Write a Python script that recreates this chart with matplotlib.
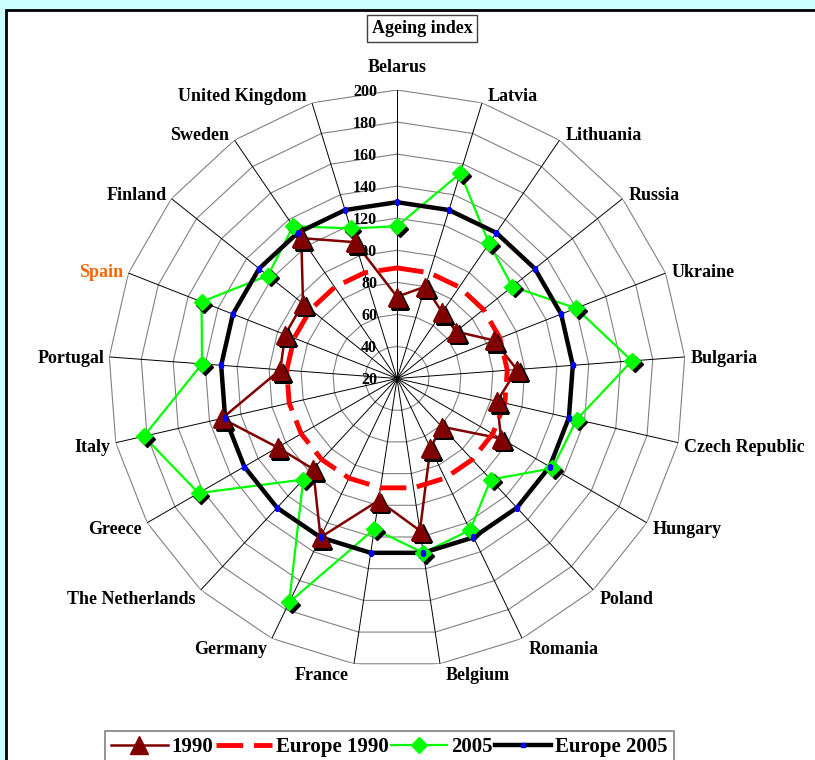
import numpy as np
import matplotlib
matplotlib.use("Agg")
import matplotlib.pyplot as plt
import matplotlib.lines as mlines
import matplotlib.patches as mpatches
import matplotlib.transforms as mtransforms

plt.rcParams['font.family'] = ['Liberation Serif', 'DejaVu Serif']
plt.rcParams['font.weight'] = 'bold'

countries = ["Belarus", "Latvia", "Lithuania", "Russia", "Ukraine", "Bulgaria",
             "Czech Republic", "Hungary", "Poland", "Romania", "Belgium", "France",
             "Germany", "The Netherlands", "Greece", "Italy", "Portugal", "Spain",
             "Finland", "Sweden", "United Kingdom"]
y1990 = [71, 80, 70, 67, 85, 95, 84, 95, 61, 68, 116, 97,
         130, 97, 106, 132, 93, 95, 95, 126, 109]
y2005 = [115, 154, 122, 112, 140, 167, 135, 132, 106, 125, 130, 115,
         175, 106, 163, 182, 142, 151, 123, 135, 118]
europe1990 = [89] * len(countries)
europe2005 = [130] * len(countries)
ticks = [20, 40, 60, 80, 100, 120, 140, 160, 180, 200]

W, H = 815, 760
fig = plt.figure(figsize=(W / 100, H / 100), dpi=100)
fig.patch.set_facecolor("#ccffff")

# white chart area with black frame (runs off the right/bottom edge)
fig.patches.append(mpatches.Rectangle((6 / W, -0.1), 1.2, 1 - 10 / H + 0.1,
                                      transform=fig.transFigure, facecolor="white",
                                      edgecolor="black", linewidth=2, zorder=-1))

cx, cy, R = 397, 378.5, 288.5
ax = fig.add_axes([(cx - R) / W, (H - cy - R) / H, 2 * R / W, 2 * R / H],
                  projection="polar")
ax.set_theta_zero_location("N")
ax.set_theta_direction(-1)
ax.set_ylim(20, 200)
ax.grid(False)
ax.set_xticks([])
ax.set_yticks([])
ax.spines["polar"].set_visible(False)
ax.patch.set_visible(False)

n = len(countries)
theta = np.arange(n) * 2 * np.pi / n
tc = np.append(theta, theta[0])

def closed(v):
    return list(v) + [v[0]]

# polygon grid
for v in ticks[1:]:
    ax.plot(tc, [v] * (n + 1), color="#808080", lw=0.8, zorder=1)
for t in theta:
    ax.plot([t, t], [20, 200], color="black", lw=0.7, zorder=1.2)

for v in ticks:
    ax.annotate(str(v), xy=(0, v), xytext=(-20, -2), textcoords="offset pixels",
                ha="right", va="center", fontsize=11.5, fontweight="bold", zorder=2)

for i, name in enumerate(countries):
    s, c = np.sin(theta[i]), np.cos(theta[i])
    if i == 0:
        off, ha = (0, 23), "center"
    elif s > 0:
        off, ha = (6, 9 * c - 2.5), "left"
    else:
        off, ha = (-5, 9 * c - 2.5), "right"
    color = "#ff6600" if name == "Spain" else "black"
    ax.annotate(name, xy=(theta[i], 200), xytext=off, textcoords="offset pixels",
                ha=ha, va="center", fontsize=13, fontweight="bold",
                color=color, annotation_clip=False)

# series lines
ax.plot(tc, closed(y1990), color="#800000", lw=1.8, zorder=3)
ax.plot(tc, closed(europe1990), color="#ff0000", lw=3.5,
        linestyle=(0, (5.5, 2.2)), zorder=3.1)
ax.plot(tc, closed(y2005), color="#00ff00", lw=1.6, zorder=3.2)
ax.plot(tc, closed(europe2005), color="black", lw=3.2, zorder=3.3)

# markers with shadow
shadow = ax.transData + mtransforms.ScaledTranslation(2 / 72, -2 / 72, fig.dpi_scale_trans)
ax.plot(theta, y1990, ls="none", marker="^", ms=12.5, color="black", transform=shadow, zorder=4)
ax.plot(theta, y2005, ls="none", marker="D", ms=8.5, color="black", transform=shadow, zorder=4)
ax.plot(theta, y1990, ls="none", marker="^", ms=12.5, color="#800000", zorder=4.5)
ax.plot(theta, y2005, ls="none", marker="D", ms=8.5, color="#00ff00", zorder=4.6)
ax.plot(theta, europe2005, ls="none", marker="s", ms=2.2, color="#0000ff", zorder=5)

fig.text(422 / W, 1 - 28.5 / H, "Ageing index", ha="center", va="center",
         fontsize=13, fontweight="bold",
         bbox=dict(boxstyle="square,pad=0.25", fc="white", ec="#404040", lw=1))

handles = [
    mlines.Line2D([], [], color="#800000", lw=1.8, marker="^", ms=12.5),
    mlines.Line2D([], [], color="#ff0000", lw=3.5, linestyle=(0, (5.5, 2.2))),
    mlines.Line2D([], [], color="#00ff00", lw=1.6, marker="D", ms=8.5),
    mlines.Line2D([], [], color="black", lw=3.2, marker="s", ms=2.2,
                  mfc="#0000ff", mec="#0000ff"),
]
labels = ["1990", "Europe 1990", "2005", "Europe 2005"]
leg = fig.legend(handles, labels, ncol=4, loc="upper left",
                 bbox_to_anchor=(105 / W, 1 - 731 / H), bbox_transform=fig.transFigure,
                 borderaxespad=0, frameon=True, fancybox=False, framealpha=1,
                 edgecolor="#808080", borderpad=0.3, handlelength=2.7,
                 handletextpad=0.2, columnspacing=0.1, numpoints=1,
                 prop={"size": 15, "weight": "bold"})
leg.get_frame().set_linewidth(1.2)

fig.savefig("out.png", dpi=100, facecolor=fig.get_facecolor())
